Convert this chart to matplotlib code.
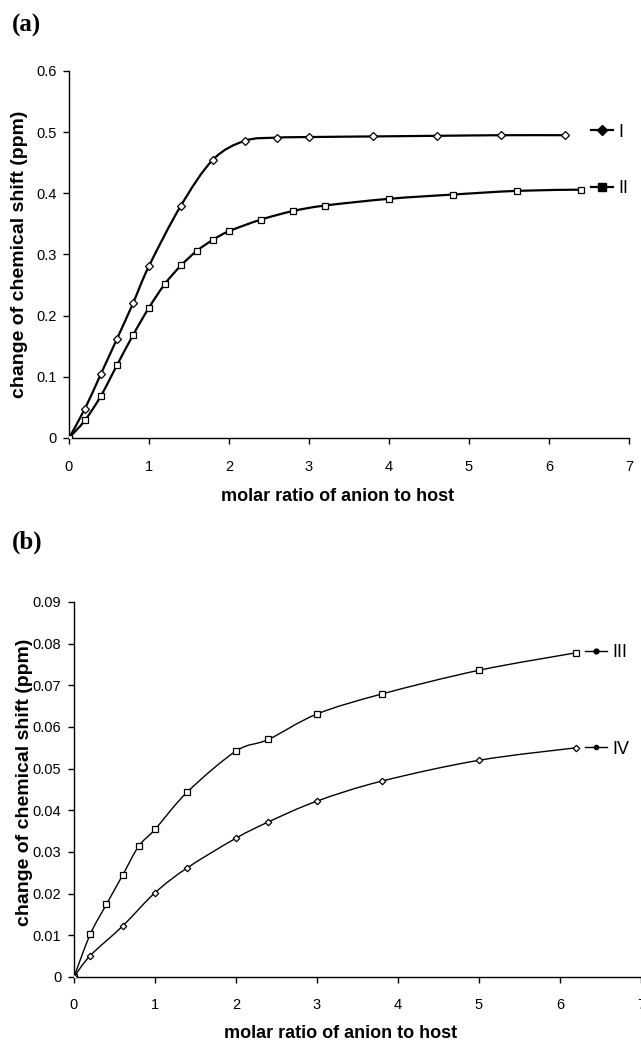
import numpy as np
import matplotlib
matplotlib.use("Agg")
import matplotlib.pyplot as plt
from matplotlib.path import Path
from matplotlib.patches import PathPatch
from matplotlib.lines import Line2D

# ---------------- data ----------------
x_I = [0, 0.2, 0.4, 0.6, 0.8, 1.0, 1.4, 1.8, 2.2, 2.6, 3.0, 3.8, 4.6, 5.4, 6.2]
y_I = [0, 0.048, 0.105, 0.162, 0.220, 0.281, 0.380, 0.455, 0.486, 0.491, 0.492, 0.493, 0.494, 0.495, 0.495]

x_II = [0, 0.2, 0.4, 0.6, 0.8, 1.0, 1.2, 1.4, 1.6, 1.8, 2.0, 2.4, 2.8, 3.2, 4.0, 4.8, 5.6, 6.4]
y_II = [0, 0.029, 0.069, 0.119, 0.168, 0.213, 0.252, 0.282, 0.306, 0.324, 0.338, 0.357, 0.371, 0.380, 0.391, 0.398, 0.404, 0.406]

x_III = [0, 0.2, 0.4, 0.6, 0.8, 1.0, 1.4, 2.0, 2.4, 3.0, 3.8, 5.0, 6.2]
y_III = [0, 0.0102, 0.0174, 0.0244, 0.0314, 0.0354, 0.0444, 0.0542, 0.0570, 0.0631, 0.0679, 0.0736, 0.0778]

x_IV = [0, 0.2, 0.6, 1.0, 1.4, 2.0, 2.4, 3.0, 3.8, 5.0, 6.2]
y_IV = [0, 0.0051, 0.0122, 0.0202, 0.0262, 0.0333, 0.0372, 0.0422, 0.0470, 0.0520, 0.0550]

labels_a = ["I", "II"]
labels_b = ["III", "IV"]
xlabel = "molar ratio of anion to host"
ylabel = "change of chemical shift (ppm)"

SANS = ["Liberation Sans", "DejaVu Sans"]
SERIF = ["Liberation Serif", "DejaVu Serif"]


def smooth_path(xs, ys):
    """Excel-like smoothed line: cubic Bezier segments through the data."""
    P = np.column_stack([xs, ys]).astype(float)
    n = len(P)
    verts = [P[0]]
    codes = [Path.MOVETO]
    for i in range(n - 1):
        p0 = P[i - 1] if i > 0 else P[i]
        p1 = P[i]
        p2 = P[i + 1]
        p3 = P[i + 2] if i + 2 < n else P[i + 1]
        c1 = p1 + (p2 - p0) / 6.0
        c2 = p2 - (p3 - p1) / 6.0
        verts += [c1, c2, p2]
        codes += [Path.CURVE4] * 3
    return Path(verts, codes)


def draw_series(ax, xs, ys, marker, ms, lw):
    ax.add_patch(PathPatch(smooth_path(xs, ys), fill=False, ec="black", lw=lw, zorder=2))
    ax.plot(xs, ys, ls="none", marker=marker, ms=ms, mfc="white", mec="black",
            mew=0.9, zorder=3)


def style_axes(ax, ylim, yticks, xpad):
    ax.set_xlim(0, 7)
    ax.set_ylim(*ylim)
    ax.set_xticks(range(0, 8))
    ax.set_yticks(yticks)
    ax.set_yticklabels([fmt(v) for v in yticks])
    for s in ("top", "right"):
        ax.spines[s].set_visible(False)
    for s in ("left", "bottom"):
        ax.spines[s].set_linewidth(1.0)
    ax.tick_params(direction="out", length=4, width=1.0, labelsize=10.5)
    ax.tick_params(axis="y", pad=5)
    ax.tick_params(axis="x", pad=xpad)
    for lab in ax.get_xticklabels() + ax.get_yticklabels():
        lab.set_family(SANS)


def fmt(v):
    s = f"{v:.2f}".rstrip("0").rstrip(".")
    return s if s else "0"


fig = plt.figure(figsize=(6.41, 10.47), dpi=100)

# ---------------- panel (a) ----------------
axa = fig.add_axes([0.1076, 0.5817, 0.8736, 0.3505])
draw_series(axa, x_I, y_I, "D", 4.0, 1.6)
draw_series(axa, x_II, y_II, "s", 5.0, 1.6)
style_axes(axa, (0, 0.6), [0, 0.1, 0.2, 0.3, 0.4, 0.5, 0.6], 12)
axa.set_xlabel(xlabel, fontsize=13, fontweight="bold", family=SANS)
axa.set_ylabel(ylabel, fontsize=14, fontweight="bold", family=SANS)
axa.xaxis.set_label_coords(0.48, -0.136)
axa.yaxis.set_label_coords(-0.073, 0.5)
ha = [Line2D([], [], color="black", lw=1.6, marker="D", ms=5, mfc="black"),
      Line2D([], [], color="black", lw=1.6, marker="s", ms=5.5, mfc="black")]
axa.legend(ha, labels_a, loc="upper left", bbox_to_anchor=(0.917, 0.881),
           frameon=False, borderpad=0, handlelength=1.2, handletextpad=0.3,
           labelspacing=2.2, prop={"family": SANS, "size": 13})
fig.text(0.019, 0.987, "(a)", fontsize=18, fontweight="bold", family=SERIF,
         ha="left", va="top")

# ---------------- panel (b) ----------------
axb = fig.add_axes([0.1154, 0.0669, 0.8846, 0.3582])
draw_series(axb, x_III, y_III, "s", 4.0, 1.0)
draw_series(axb, x_IV, y_IV, "D", 3.3, 1.0)
style_axes(axb, (0, 0.09), [0, 0.01, 0.02, 0.03, 0.04, 0.05, 0.06, 0.07, 0.08, 0.09], 11)
axb.set_xlabel(xlabel, fontsize=13, fontweight="bold", family=SANS)
axb.set_ylabel(ylabel, fontsize=14, fontweight="bold", family=SANS)
axb.xaxis.set_label_coords(0.47, -0.128)
axb.yaxis.set_label_coords(-0.073, 0.52)
hb = [Line2D([], [], color="black", lw=1.0, marker="o", ms=3.5, mfc="black"),
      Line2D([], [], color="black", lw=1.0, marker="o", ms=3.0, mfc="black")]
axb.legend(hb, labels_b, loc="upper left", bbox_to_anchor=(0.886, 0.911),
           frameon=False, borderpad=0, handlelength=1.2, handletextpad=0.3,
           labelspacing=4.4, prop={"family": SANS, "size": 13})
fig.text(0.019, 0.493, "(b)", fontsize=18, fontweight="bold", family=SERIF,
         ha="left", va="top")

fig.savefig("out.png", dpi=100)
